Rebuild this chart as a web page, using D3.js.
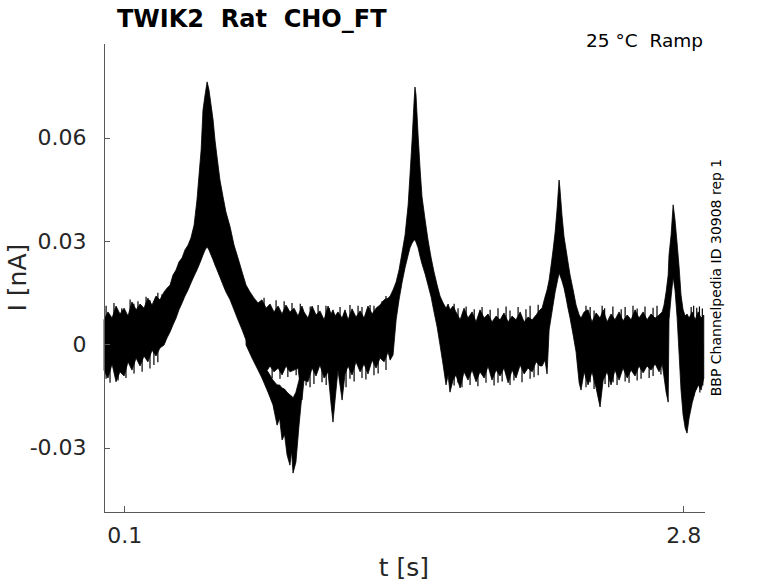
<!DOCTYPE html>
<html><head><meta charset="utf-8">
<script src="https://cdn.jsdelivr.net/npm/d3@7"></script>
<style>body{margin:0;background:#fff}svg{display:block}</style>
</head><body>
<svg id="chart" width="778" height="583"></svg>
<script>
// ---- data (time in s, current in nA): envelope of the overlaid sweeps ----
const timeS = [
0.002,0.021,0.041,0.060,0.079,0.099,0.118,0.137,0.157,0.176,0.195,0.214,0.234,0.253,0.272,0.292,
0.306,0.321,0.335,0.350,0.364,0.379,0.393,0.408,0.422,0.437,0.451,0.461,0.471,0.480,0.490,0.500,
0.509,0.519,0.529,0.538,0.548,0.562,0.577,0.591,0.611,0.630,0.649,0.669,0.688,0.707,0.727,0.746,
0.765,0.785,0.804,0.823,0.843,0.862,0.881,0.900,0.920,0.939,0.958,0.968,0.987,1.007,1.026,1.045,
1.065,1.084,1.099,1.108,1.118,1.132,1.152,1.166,1.181,1.200,1.219,1.239,1.258,1.277,1.297,1.316,
1.335,1.355,1.374,1.384,1.398,1.413,1.427,1.442,1.456,1.471,1.480,1.490,1.500,1.504,1.509,1.519,
1.529,1.538,1.553,1.567,1.582,1.596,1.611,1.625,1.640,1.654,1.664,1.673,1.688,1.702,1.722,1.741,
1.760,1.780,1.799,1.818,1.838,1.857,1.876,1.896,1.915,1.934,1.954,1.973,1.992,2.012,2.031,2.050,
2.070,2.089,2.108,2.118,2.132,2.142,2.152,2.161,2.171,2.181,2.190,2.200,2.204,2.214,2.224,2.234,
2.243,2.253,2.268,2.282,2.297,2.306,2.321,2.340,2.359,2.379,2.398,2.413,2.432,2.451,2.470,2.490,
2.509,2.529,2.548,2.567,2.586,2.606,2.625,2.644,2.664,2.683,2.698,2.707,2.717,2.727,2.731,2.741,
2.751,2.760,2.770,2.780,2.789,2.799,2.809,2.818,2.828,2.843,2.857,2.872,2.886,2.899];
const upperNA = [
0.0071,0.0094,0.0076,0.0111,0.0088,0.0105,0.0082,0.0123,0.0100,0.0117,0.0105,0.0134,0.0114,0.0140,0.0129,0.0152,
0.0163,0.0172,0.0201,0.0216,0.0239,0.0251,0.0274,0.0288,0.0309,0.0346,0.0419,0.0492,0.0564,0.0680,0.0724,0.0762,
0.0739,0.0695,0.0651,0.0593,0.0544,0.0477,0.0428,0.0384,0.0341,0.0288,0.0251,0.0210,0.0172,0.0152,0.0134,0.0120,
0.0129,0.0105,0.0117,0.0094,0.0111,0.0088,0.0114,0.0094,0.0105,0.0082,0.0111,0.0094,0.0076,0.0111,0.0085,0.0097,
0.0071,0.0111,0.0088,0.0100,0.0082,0.0094,0.0076,0.0100,0.0071,0.0103,0.0079,0.0097,0.0076,0.0111,0.0088,0.0105,
0.0114,0.0129,0.0134,0.0140,0.0158,0.0181,0.0216,0.0268,0.0317,0.0405,0.0492,0.0593,0.0709,0.0747,0.0724,0.0608,
0.0506,0.0428,0.0361,0.0303,0.0251,0.0210,0.0172,0.0140,0.0120,0.0105,0.0117,0.0100,0.0111,0.0094,0.0071,0.0105,
0.0076,0.0094,0.0065,0.0100,0.0076,0.0088,0.0065,0.0082,0.0071,0.0091,0.0065,0.0082,0.0071,0.0094,0.0065,0.0079,
0.0071,0.0085,0.0100,0.0105,0.0137,0.0158,0.0187,0.0227,0.0274,0.0326,0.0390,0.0477,0.0454,0.0375,0.0312,0.0274,
0.0239,0.0201,0.0158,0.0114,0.0085,0.0076,0.0094,0.0100,0.0065,0.0091,0.0076,0.0100,0.0065,0.0088,0.0071,0.0094,
0.0068,0.0085,0.0071,0.0100,0.0076,0.0094,0.0071,0.0088,0.0076,0.0085,0.0094,0.0114,0.0152,0.0201,0.0259,0.0317,
0.0405,0.0361,0.0294,0.0222,0.0143,0.0100,0.0082,0.0088,0.0076,0.0094,0.0071,0.0094,0.0076,0.0085];
const lowerNA = [
-0.0075,-0.0098,-0.0057,-0.0109,-0.0080,-0.0092,-0.0051,-0.0075,-0.0040,-0.0063,-0.0034,-0.0051,-0.0017,-0.0034,-0.0011,-0.0002,
0.0018,0.0036,0.0056,0.0076,0.0100,0.0120,0.0140,0.0158,0.0178,0.0198,0.0216,0.0230,0.0245,0.0259,0.0274,0.0283,
0.0274,0.0259,0.0245,0.0230,0.0216,0.0195,0.0172,0.0152,0.0129,0.0100,0.0071,0.0042,0.0012,-0.0011,-0.0034,-0.0051,
-0.0069,-0.0080,-0.0063,-0.0080,-0.0069,-0.0089,-0.0063,-0.0080,-0.0075,-0.0069,-0.0162,-0.0104,-0.0109,-0.0069,-0.0092,-0.0060,
-0.0098,-0.0080,-0.0176,-0.0226,-0.0162,-0.0075,-0.0162,-0.0086,-0.0063,-0.0089,-0.0051,-0.0080,-0.0057,-0.0086,-0.0046,-0.0069,
-0.0040,-0.0051,-0.0022,-0.0046,-0.0031,0.0071,0.0129,0.0181,0.0222,0.0259,0.0280,0.0294,0.0303,0.0303,0.0297,0.0280,
0.0254,0.0233,0.0204,0.0172,0.0137,0.0094,0.0050,-0.0002,-0.0060,-0.0118,-0.0089,-0.0139,-0.0104,-0.0089,-0.0127,-0.0080,
-0.0104,-0.0075,-0.0109,-0.0080,-0.0098,-0.0063,-0.0104,-0.0075,-0.0092,-0.0069,-0.0112,-0.0075,-0.0098,-0.0060,-0.0086,-0.0069,
-0.0080,-0.0051,-0.0063,-0.0063,-0.0046,-0.0086,0.0042,0.0076,0.0114,0.0152,0.0178,0.0207,0.0201,0.0184,0.0163,0.0134,
0.0105,0.0076,0.0027,-0.0022,-0.0112,-0.0133,-0.0080,-0.0118,-0.0080,-0.0127,-0.0182,-0.0104,-0.0080,-0.0118,-0.0075,-0.0104,
-0.0069,-0.0098,-0.0075,-0.0092,-0.0063,-0.0083,-0.0063,-0.0075,-0.0057,-0.0080,-0.0057,-0.0095,-0.0139,-0.0168,0.0071,0.0137,
0.0195,0.0158,0.0079,-0.0031,-0.0133,-0.0205,-0.0243,-0.0258,-0.0214,-0.0170,-0.0139,-0.0118,-0.0133,-0.0098];
// separate inward-current branch after the first peak
const dipTimeS  = [0.688,0.717,0.746,0.765,0.794,0.818,0.838,0.850,0.862,0.874,0.886,0.900,0.908,0.915,0.929,0.944,0.958];
const dipUpperNA = [0.0012,-0.0017,-0.0040,-0.0060,-0.0080,-0.0104,-0.0118,-0.0118,-0.0127,-0.0130,-0.0139,-0.0147,-0.0150,-0.0156,-0.0139,-0.0104,-0.0075];
const dipLowerNA = [-0.0002,-0.0040,-0.0075,-0.0098,-0.0139,-0.0176,-0.0235,-0.0215,-0.0278,-0.0262,-0.0321,-0.0351,-0.0310,-0.0374,-0.0342,-0.0235,-0.0147];
// individual noise excursions poking out of the band
const upSpikeTimeS = [0.012,0.050,0.088,0.128,0.146,0.166,0.205,0.224,0.262,0.282,
  0.775,0.833,0.872,0.910,0.950,0.998,1.036,1.074,1.090,1.142,1.190,1.229,1.248,1.287,1.306,1.345,1.364,
  1.693,1.712,1.751,1.790,1.828,1.867,1.905,1.944,1.963,2.002,2.040,2.060,2.099,
  2.330,2.350,2.369,2.408,2.420,2.460,2.500,2.519,2.557,2.577,2.615,2.654,2.673,
  2.838,2.850,2.865,2.878,2.892];
const upSpikeNA = [0.0112,0.0120,0.0105,0.0130,0.0118,0.0125,0.0138,0.0128,0.0150,0.0145,
  0.0135,0.0128,0.0125,0.0120,0.0118,0.0110,0.0114,0.0112,0.0105,0.0108,0.0114,0.0112,0.0108,0.0114,0.0112,0.0125,0.0140,
  0.0118,0.0105,0.0110,0.0102,0.0108,0.0100,0.0105,0.0110,0.0098,0.0108,0.0102,0.0112,0.0115,
  0.0112,0.0108,0.0098,0.0112,0.0105,0.0110,0.0102,0.0108,0.0112,0.0104,0.0110,0.0106,0.0112,
  0.0108,0.0112,0.0106,0.0110,0.0104];
const downSpikeTimeS = [0.012,0.031,0.070,0.108,0.147,0.186,0.224,0.243,0.262,
  0.775,0.814,0.852,0.890,0.930,0.978,0.997,1.016,1.055,1.075,1.142,1.171,1.190,1.210,1.248,1.267,1.306,1.326,1.364,
  1.693,1.712,1.731,1.770,1.808,1.847,1.886,1.905,1.925,1.963,1.982,2.021,2.060,2.079,2.099,
  2.330,2.350,2.369,2.388,2.422,2.440,2.461,2.480,2.519,2.538,2.577,2.596,2.635,2.654,2.692,
  2.850,2.864,2.880,2.894];
const downSpikeNA = [-0.0100,-0.0112,-0.0105,-0.0098,-0.0085,-0.0080,-0.0070,-0.0060,-0.0052,
  -0.0092,-0.0098,-0.0100,-0.0095,-0.0090,-0.0120,-0.0125,-0.0115,-0.0110,-0.0118,-0.0105,-0.0125,-0.0100,-0.0108,-0.0098,-0.0102,-0.0090,-0.0085,-0.0075,
  -0.0120,-0.0112,-0.0125,-0.0118,-0.0122,-0.0112,-0.0120,-0.0112,-0.0108,-0.0118,-0.0105,-0.0110,-0.0100,-0.0096,-0.0090,
  -0.0125,-0.0110,-0.0130,-0.0120,-0.0115,-0.0125,-0.0110,-0.0118,-0.0108,-0.0112,-0.0105,-0.0100,-0.0098,-0.0092,-0.0088,
  -0.0150,-0.0130,-0.0140,-0.0120];

const xTickValues = [0.1, 2.8];
const xTickLabels = ["0.1", "2.8"];
const yTickValues = [-0.03, 0, 0.03, 0.06];
const yTickLabels = ["-0.03", "0", "0.03", "0.06"];
const titleText = "TWIK2  Rat  CHO_FT";
const conditionText = "25 °C  Ramp";
const sideText = "BBP Channelpedia ID 30908 rep 1";
const xLabelText = "t [s]";
const yLabelText = "I [nA]";

// ---- drawing ----
const FONT = "'DejaVu Sans', 'Liberation Sans', sans-serif";
const svg = d3.select("#chart");
const L = 103.6, R = 704, T = 43.3, B = 512;
const x = d3.scaleLinear().domain([0, 2.9]).range([L, R]);
const y = d3.scaleLinear().domain([-0.0487, 0.0874]).range([B, T]);

const band = d3.area()
  .x(i => x(timeS[i])).y0(i => y(lowerNA[i])).y1(i => y(upperNA[i]));
svg.append("path").datum(d3.range(timeS.length))
  .attr("d", band).attr("fill", "#000").attr("stroke", "#000")
  .attr("stroke-width", 0.8).attr("stroke-linejoin", "miter");

const dip = d3.area()
  .x(i => x(dipTimeS[i])).y0(i => y(dipLowerNA[i])).y1(i => y(dipUpperNA[i]));
svg.append("path").datum(d3.range(dipTimeS.length))
  .attr("d", dip).attr("fill", "#000").attr("stroke", "#000")
  .attr("stroke-width", 0.8).attr("stroke-linejoin", "miter");

const spikes = svg.append("g").attr("stroke", "#000").attr("stroke-width", 1.2);
spikes.selectAll("line.up").data(d3.range(upSpikeTimeS.length)).join("line")
  .attr("class", "up")
  .attr("x1", i => x(upSpikeTimeS[i])).attr("x2", i => x(upSpikeTimeS[i]))
  .attr("y1", y(0)).attr("y2", i => y(upSpikeNA[i]));
spikes.selectAll("line.down").data(d3.range(downSpikeTimeS.length)).join("line")
  .attr("class", "down")
  .attr("x1", i => x(downSpikeTimeS[i])).attr("x2", i => x(downSpikeTimeS[i]))
  .attr("y1", y(0)).attr("y2", i => y(downSpikeNA[i]));

const axisColor = "#595959", textColor = "#262626";
const gx = svg.append("g").attr("transform", `translate(0,${B})`)
  .call(d3.axisBottom(x).tickValues(xTickValues).tickFormat((d, i) => xTickLabels[i])
        .tickSizeInner(-6).tickSizeOuter(0).tickPadding(15));
const gy = svg.append("g").attr("transform", `translate(${L},0)`)
  .call(d3.axisLeft(y).tickValues(yTickValues).tickFormat((d, i) => yTickLabels[i])
        .tickSizeInner(-6).tickSizeOuter(0).tickPadding(17));
[gx, gy].forEach(g => {
  g.attr("font-family", FONT).attr("font-size", 22);
  g.select(".domain").attr("stroke", axisColor).attr("shape-rendering", "crispEdges");
  g.selectAll(".tick line").attr("stroke", axisColor).attr("shape-rendering", "crispEdges");
  g.selectAll(".tick text").attr("fill", textColor);
});

svg.append("text").attr("x", 117).attr("y", 27)
  .attr("font-family", FONT).attr("font-size", 24).attr("font-weight", "bold")
  .attr("fill", "#000").style("white-space", "pre").text(titleText);
svg.append("text").attr("x", 703).attr("y", 47).attr("text-anchor", "end")
  .attr("font-family", FONT).attr("font-size", 18.5)
  .attr("fill", "#000").style("white-space", "pre").text(conditionText);
svg.append("text").attr("transform", "translate(721,277.5) rotate(-90)")
  .attr("text-anchor", "middle").attr("font-family", FONT).attr("font-size", 14)
  .attr("fill", "#000").text(sideText);
svg.append("text").attr("x", (L + R) / 2).attr("y", 576).attr("text-anchor", "middle")
  .attr("font-family", FONT).attr("font-size", 25).attr("fill", textColor).text(xLabelText);
svg.append("text").attr("transform", `translate(26,${(T + B) / 2}) rotate(-90)`)
  .attr("text-anchor", "middle").attr("font-family", FONT).attr("font-size", 25)
  .attr("fill", textColor).text(yLabelText);
</script>
</body></html>
